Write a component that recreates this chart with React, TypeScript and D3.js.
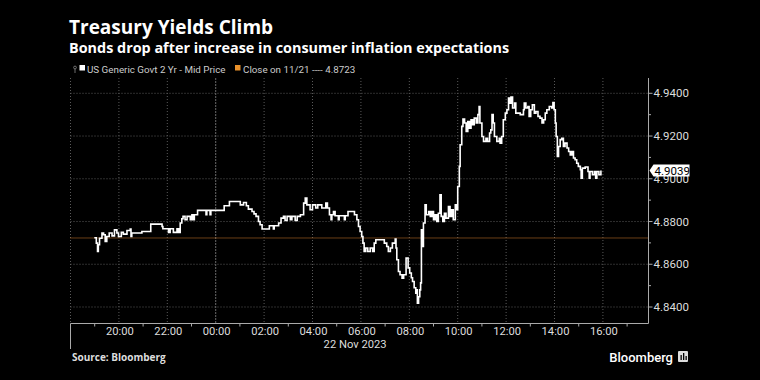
import React from 'react';
import * as d3 from 'd3';

const titleText = 'Treasury Yields Climb';
const subtitleText = 'Bonds drop after increase in consumer inflation expectations';
const seriesName = 'US Generic Govt 2 Yr - Mid Price';
const closeLabel = 'Close on 11/21 ---- 4.8723';
const dateLabel = '22 Nov 2023';
const sourceText = 'Source: Bloomberg';

// times: hours >= 18 are on 21 Nov 2023, others on 22 Nov 2023
const times = [
  '18:59','19:04','19:07','19:09','19:12','19:18','19:22','19:26','19:30','19:36',
  '19:43','19:49','19:55','19:59','20:06','20:11','20:20','20:28','20:30','20:32',
  '20:57','21:19','21:47','21:49','22:03','22:07','22:15','22:24','22:28','22:32',
  '22:36','22:39','22:44','22:49','22:57','23:01','23:04','23:07','23:15','23:36',
  '23:38','23:46','23:48','00:21','00:34','01:01','01:09','01:16','01:21','01:30',
  '01:35','01:40','01:46','01:50','01:55','02:13','02:23','02:25','02:36','02:42',
  '02:48','02:52','02:57','03:05','03:09','03:17','03:22','03:30','03:38','03:42',
  '03:46','03:54','04:00','04:08','04:13','04:23','04:33','04:37','04:42','04:46',
  '04:48','04:52','04:56','05:04','05:06','05:19','05:21','05:28','05:44','05:50',
  '05:54','05:58','06:02','06:05','06:08','06:12','06:17','06:23','06:29','06:33',
  '06:37','06:58','07:04','07:08','07:13','07:18','07:25','07:27','07:29','07:33',
  '07:37','07:42','07:46','07:52','07:57','08:01','08:05','08:08','08:12','08:16',
  '08:18','08:20','08:23','08:26','08:28','08:30','08:33','08:35','08:39','08:42',
  '08:48','08:52','08:56','09:00','09:04','09:08','09:12','09:16','09:19','09:23',
  '09:27','09:31','09:37','09:41','09:45','09:49','09:54','09:58','10:00','10:04',
  '10:06','10:10','10:13','10:17','10:21','10:25','10:29','10:33','10:37','10:41',
  '10:46','10:50','10:53','10:55','11:00','11:04','11:10','11:14','11:19','11:22',
  '11:25','11:28','11:31','11:37','11:43','11:45','11:49','11:53','11:58','12:02',
  '12:06','12:10','12:12','12:16','12:21','12:24','12:35','12:43','12:45','12:49',
  '12:54','12:57','13:01','13:05','13:10','13:14','13:19','13:24','13:29','13:33',
  '13:37','13:41','13:47','13:53','13:56','13:59','14:02','14:04','14:07','14:10',
  '14:14','14:18','14:22','14:26','14:31','14:35','14:39','14:43','14:47','14:51',
  '14:55','14:59','15:04','15:06','15:09','15:16','15:23','15:26','15:28','15:34',
  '15:39','15:42','15:45','15:50','15:55'
];

const yields = [
  4.8724,4.8699,4.8660,4.8691,4.8722,4.8746,4.8738,4.8707,4.8730,4.8746,
  4.8733,4.8761,4.8746,4.8730,4.8749,4.8741,4.8758,4.8765,4.8730,4.8746,
  4.8753,4.8788,4.8777,4.8766,4.8749,4.8766,4.8749,4.8766,4.8749,4.8793,
  4.8813,4.8824,4.8808,4.8824,4.8808,4.8832,4.8808,4.8832,4.8852,4.8832,
  4.8852,4.8832,4.8852,4.8874,4.8894,4.8878,4.8889,4.8874,4.8858,4.8847,
  4.8836,4.8824,4.8800,4.8785,4.8765,4.8780,4.8765,4.8780,4.8793,4.8816,
  4.8824,4.8805,4.8824,4.8808,4.8824,4.8805,4.8824,4.8832,4.8886,4.8910,
  4.8878,4.8855,4.8878,4.8863,4.8878,4.8863,4.8886,4.8863,4.8832,4.8808,
  4.8832,4.8847,4.8827,4.8808,4.8827,4.8808,4.8827,4.8847,4.8832,4.8808,
  4.8777,4.8753,4.8730,4.8699,4.8660,4.8676,4.8660,4.8676,4.8660,4.8699,
  4.8715,4.8699,4.8683,4.8660,4.8676,4.8699,4.8718,4.8676,4.8621,4.8566,
  4.8551,4.8535,4.8551,4.8629,4.8583,4.8559,4.8537,4.8519,4.8490,4.8465,
  4.8480,4.8418,4.8448,4.8480,4.8513,4.8761,4.8683,4.8793,4.8878,4.8832,
  4.8847,4.8824,4.8847,4.8808,4.8832,4.8800,4.8839,4.8925,4.8824,4.8800,
  4.8839,4.8816,4.8870,4.8824,4.8855,4.8808,4.8878,4.8855,4.8964,4.9058,
  4.9159,4.9245,4.9279,4.9261,4.9221,4.9268,4.9237,4.9276,4.9253,4.9284,
  4.9261,4.9300,4.9338,4.9261,4.9198,4.9175,4.9190,4.9175,4.9214,4.9229,
  4.9300,4.9261,4.9198,4.9175,4.9190,4.9167,4.9198,4.9276,4.9307,4.9323,
  4.9378,4.9354,4.9382,4.9331,4.9354,4.9307,4.9300,4.9323,4.9354,4.9331,
  4.9338,4.9292,4.9323,4.9346,4.9307,4.9315,4.9292,4.9284,4.9261,4.9276,
  4.9307,4.9323,4.9338,4.9331,4.9357,4.9323,4.9261,4.9198,4.9104,4.9151,
  4.9183,4.9190,4.9151,4.9167,4.9144,4.9128,4.9112,4.9128,4.9097,4.9089,
  4.9073,4.9058,4.9042,4.9003,4.9050,4.9055,4.9034,4.9003,4.9034,4.9019,
  4.9034,4.9003,4.9034,4.9019,4.9039
];

const yTicks = [4.84, 4.86, 4.88, 4.90, 4.92, 4.94];
const xTickLabels = ['20:00','22:00','00:00','02:00','04:00','06:00','08:00','10:00','12:00','14:00','16:00'];
const prevClose = 4.8723;
const lastValue = 4.9039;

const parseT = (s: string) => {
  const [h, m] = s.split(':').map(Number);
  return new Date(2023, 10, h >= 18 ? 21 : 22, h, m);
};

export default function App() {
  const W = 760, H = 380;
  const left = 70.5, right = 648.5, top = 78, bottom = 323.5;
  const x = d3.scaleTime()
    .domain([new Date(2023, 10, 21, 18, 0), new Date(2023, 10, 22, 17, 53)])
    .range([left, right]);
  const y = d3.scaleLinear().domain([4.84, 4.94]).range([307, 93.3]);

  const data = times.map((t, i) => ({ t: parseT(t), v: yields[i] }));
  const line = d3.line<{ t: Date; v: number }>()
    .x(d => x(d.t))
    .y(d => y(d.v))
    .curve(d3.curveStepAfter);

  const gridHours = d3.timeHour.every(2)!.range(new Date(2023, 10, 21, 18, 0), new Date(2023, 10, 22, 17, 0));
  const oddHours = d3.timeHour.every(1)!.range(new Date(2023, 10, 21, 19, 0), new Date(2023, 10, 22, 17, 53))
    .filter(d => d.getHours() % 2 === 1);
  const labelDates = xTickLabels.map(l => {
    const h = +l.split(':')[0];
    return new Date(2023, 10, h >= 18 ? 21 : 22, h, 0);
  });
  const minorY = d3.range(yTicks.length - 1).map(i => (yTicks[i] + yTicks[i + 1]) / 2);

  const axisFont = 'Roboto, "Liberation Sans", sans-serif';
  const headFont = '"Open Sans", Roboto, sans-serif';
  const grid = '#5a5a5a';
  const ly = y(lastValue);

  return (
    <svg width={W} height={H} style={{ position: 'absolute', left: 0, top: 0, background: '#000' }}>
      <rect x={0} y={0} width={W} height={H} fill="#000" />
      <text x={69} y={34} fill="#fff" fontFamily={headFont} fontWeight={700} fontSize={19}>{titleText}</text>
      <text x={69} y={52.5} fill="#fff" fontFamily={headFont} fontWeight={700} fontSize={14.4}>{subtitleText}</text>

      {/* legend */}
      <g>
        <circle cx={75} cy={67.5} r={1.4} fill="none" stroke="#888" strokeWidth={0.8} />
        <line x1={75} x2={75} y1={69} y2={73} stroke="#888" strokeWidth={0.8} />
        <rect x={79.5} y={65} width={5.5} height={5.5} fill="#fff" />
        <text x={87} y={72.5} fill="#ccc" fontFamily={axisFont} fontSize={9.8}>{seriesName}</text>
        <rect x={235} y={65} width={5.5} height={5.5} fill="#e8902a" />
        <text x={243} y={72.5} fill="#ccc" fontFamily={axisFont} fontSize={9.8}>{closeLabel}</text>
      </g>

      {/* grid */}
      {yTicks.map(t => (
        <line key={'h' + t} x1={left} x2={right} y1={y(t)} y2={y(t)} stroke={grid} strokeWidth={1} strokeDasharray="1,2" />
      ))}
      {gridHours.map(d => (
        <line key={'v' + d.getTime()} x1={x(d)} x2={x(d)} y1={top} y2={bottom}
          stroke={d.getHours() === 0 ? '#6a6a6a' : grid} strokeWidth={1}
          strokeDasharray={d.getHours() === 0 ? '2,1' : '1,2'} />
      ))}

      {/* previous close */}
      <line x1={left} x2={right} y1={y(prevClose)} y2={y(prevClose)} stroke="#d27a2c" strokeWidth={1} strokeDasharray="1,1" />

      {/* axes */}
      <line x1={left} x2={right} y1={bottom} y2={bottom} stroke="#aaa" strokeWidth={1} />
      <line x1={right} x2={right} y1={top} y2={bottom} stroke="#aaa" strokeWidth={1} />
      <line x1={left} x2={left} y1={bottom} y2={349} stroke="#aaa" strokeWidth={1} />
      {oddHours.map(d => (
        <line key={'ot' + d.getTime()} x1={x(d)} x2={x(d)} y1={bottom} y2={bottom + 3} stroke="#aaa" strokeWidth={1} />
      ))}
      {labelDates.map((d, i) => (
        <text key={'xl' + i} x={x(d) + 1} y={334.5} fill="#ddd" fontFamily={axisFont} fontSize={11.2} textAnchor="middle">{xTickLabels[i]}</text>
      ))}
      <text x={x(new Date(2023, 10, 22, 7, 0)) - 30} y={348} fill="#ddd" fontFamily={axisFont} fontSize={11.2} textAnchor="middle">{dateLabel}</text>

      {yTicks.map(t => (
        <g key={'yt' + t}>
          <line x1={right} x2={right + 4} y1={y(t)} y2={y(t)} stroke="#aaa" strokeWidth={1} />
          <text x={right + 5} y={y(t)} dy="0.35em" fill="#ddd" fontFamily={axisFont} fontSize={11.5}>{t.toFixed(4)}</text>
        </g>
      ))}
      {minorY.map(t => (
        <line key={'my' + t} x1={right} x2={right + 2.5} y1={y(t)} y2={y(t)} stroke="#aaa" strokeWidth={1} />
      ))}

      {/* series */}
      <path d={line(data) || ''} fill="none" stroke="#fff" strokeWidth={1.6} strokeLinejoin="miter" />

      {/* last value tag */}
      <path d={`M${right + 1},${ly} L${right + 5},${ly - 6} L${right + 41},${ly - 6} L${right + 41},${ly + 6} L${right + 5},${ly + 6} Z`} fill="#fff" />
      <text x={right + 6} y={ly} dy="0.36em" fill="#000" fontFamily={axisFont} fontSize={11.5}>{lastValue.toFixed(4)}</text>

      {/* footer */}
      <text x={72} y={361} fill="#ddd" fontFamily={headFont} fontWeight={700} fontSize={10}>{sourceText}</text>
      <text x={673} y={362} fill="#fff" fontFamily={axisFont} fontWeight={500} fontSize={13} textAnchor="end">Bloomberg</text>
      <rect x={678} y={351} width={10} height={11} fill="#ddd" rx={1} />
      <rect x={680.5} y={355} width={1.3} height={5} fill="#000" />
      <rect x={683} y={353} width={1.3} height={7} fill="#000" />
      <rect x={685.5} y={356} width={1.3} height={4} fill="#000" />
    </svg>
  );
}
